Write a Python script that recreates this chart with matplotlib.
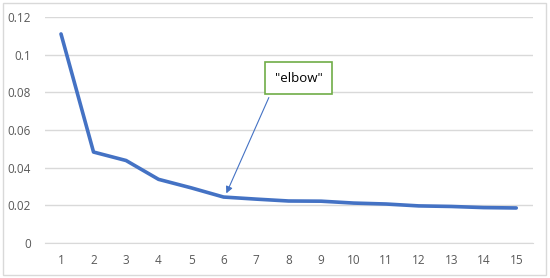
import matplotlib
matplotlib.use("Agg")
import matplotlib.pyplot as plt
from matplotlib.patches import Rectangle

k = list(range(1, 16))
values = [0.111, 0.0483, 0.0438, 0.0338, 0.0293, 0.0244, 0.0233, 0.0223, 0.0222,
          0.0212, 0.0207, 0.0197, 0.0194, 0.0188, 0.0186]
yticks = [0, 0.02, 0.04, 0.06, 0.08, 0.1, 0.12]
ytick_labels = ["0", "0.02", "0.04", "0.06", "0.08", "0.1", "0.12"]

W, H = 550, 278
fig = plt.figure(figsize=(W / 100, H / 100), dpi=100)
fig.patches.append(Rectangle((3 / W, 3 / H), 543 / W, 272 / H, transform=fig.transFigure,
                             fill=False, edgecolor="#d9d9d9", linewidth=1))
ax = fig.add_axes([44.75 / W, 1 - 243 / H, (532.5 - 44.75) / W, (243 - 17) / H])
ax.plot(k, values, color="#4472C4", linewidth=2.6, solid_capstyle="round", solid_joinstyle="round")
ax.set_xlim(0.5, 15.5)
ax.set_ylim(0, 0.12)
ax.set_yticks(yticks)
ax.set_yticklabels(ytick_labels)
ax.set_xticks(k)
ax.grid(axis="y", color="#d9d9d9", linewidth=1)
ax.set_axisbelow(True)
for s in ["top", "right", "left"]:
    ax.spines[s].set_visible(False)
ax.spines["bottom"].set_color("#d9d9d9")
ax.tick_params(length=0, labelsize=8.5, colors="#595959", pad=8)
ax.tick_params(axis="y", pad=10)
for lbl in ax.get_xticklabels() + ax.get_yticklabels():
    lbl.set_fontfamily("Open Sans")

ax.annotate('"elbow"', xy=(6.05, 0.0250), xycoords="data",
            xytext=(298.5 / W, 1 - 78 / H), textcoords="figure fraction",
            ha="center", va="center", fontsize=9.5, color="#000000", fontfamily="Open Sans",
            bbox=dict(boxstyle="square,pad=0.75", fc="white", ec="#70AD47", lw=1.2),
            arrowprops=dict(arrowstyle="-|>", color="#4472C4", lw=0.8,
                            mutation_scale=10, relpos=(0, 0)))

fig.savefig("out.png", dpi=100)
